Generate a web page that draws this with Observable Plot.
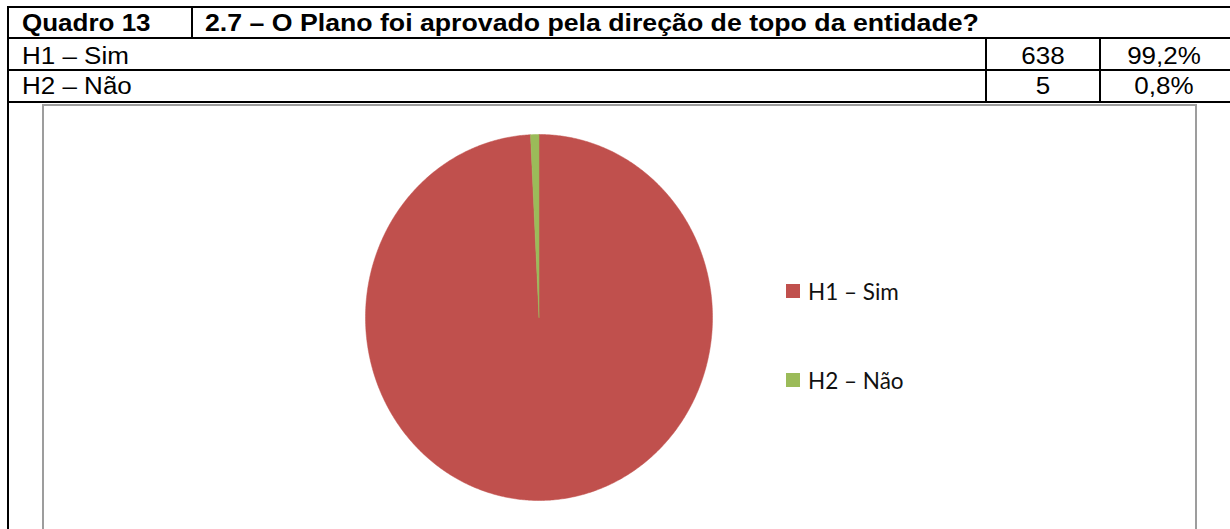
<!DOCTYPE html>
<html>
<head>
<meta charset="utf-8">
<script src="https://cdn.jsdelivr.net/npm/d3@7"></script>
<script src="https://cdn.jsdelivr.net/npm/@observablehq/plot@0.6"></script>
<style>
  body { margin:0; width:1230px; height:529px; overflow:hidden; position:relative; background:#fff; font-family:"Liberation Sans", Arial, sans-serif; color:#000; }
  .ln { position:absolute; background:#000; }
  .tx { position:absolute; font-size:23px; line-height:23px; white-space:nowrap; transform-origin:left top; transform:scaleX(1.13); }
  .tc { position:absolute; font-size:23px; line-height:23px; white-space:nowrap; transform-origin:center top; transform:translateX(-50%) scaleX(1.13); }
  .b { font-weight:bold; }
  .wide { transform:scaleX(1.16); }
  #frame { position:absolute; left:42px; top:104px; width:1151px; height:500px; border:2px solid #9d9d9d; }
  #chart { position:absolute; left:44px; top:106px; }
  .lg { position:absolute; font-family:Lato, "Open Sans", sans-serif; font-size:22.5px; line-height:22px; color:#111; white-space:nowrap; }
  .sw { position:absolute; width:14px; height:14px; }
</style>
</head>
<body>
<div id="frame"></div>
<div id="chart"></div>
<script>
// ---- data ----
const tableTitle = ["Quadro 13", "2.7 – O Plano foi aprovado pela direção de topo da entidade?"];
const categories = ["H1 – Sim", "H2 – Não"];
const counts = [638, 5];
const percents = ["99,2%", "0,8%"];
const colors = ["#C0504D", "#9BBB59"];

// ---- table (layout) ----
const body = document.body;
function line(x, y, w, h) {
  const d = document.createElement("div");
  d.className = "ln";
  Object.assign(d.style, {left: x + "px", top: y + "px", width: w + "px", height: h + "px"});
  body.appendChild(d);
}
function text(cls, str, x, top) {
  const d = document.createElement("div");
  d.className = cls;
  d.textContent = str;
  Object.assign(d.style, {left: x + "px", top: top + "px"});
  body.appendChild(d);
}
const rowLines = [6, 37, 69, 101];
rowLines.forEach(y => line(7, y, 1240, 2));
line(7, 6, 2, 540);
line(191, 6, 2, 33);
line(985, 37, 2, 66);
line(1099, 37, 2, 66);

text("tx b", tableTitle[0], 22, 12);
text("tx b wide", tableTitle[1], 205, 12);
const rowTops = [45, 75];
categories.forEach((c, i) => {
  text("tx", c, 22, rowTops[i]);
  text("tc", String(counts[i]), 1043, rowTops[i]);
  text("tc", percents[i], 1164, rowTops[i]);
});

// ---- pie ----
const data = categories.map((c, i) => ({key: c, count: counts[i]}));
const arcs = d3.pie().sort(null).value(d => d.count)(data);
const points = [];
arcs.forEach(a => {
  points.push({key: a.data.key, x: 0, y: 0});
  const n = Math.max(2, Math.ceil((a.endAngle - a.startAngle) / (Math.PI / 360)));
  for (let k = 0; k <= n; k++) {
    const t = a.startAngle + (a.endAngle - a.startAngle) * k / n;
    points.push({key: a.data.key, x: Math.sin(t), y: Math.cos(t)});
  }
  points.push({key: a.data.key, x: 0, y: 0});
});

const cx = 494.5, cy = 211, rx = 173.5, ry = 183;
const plot = Plot.plot({
  width: 1151,
  height: 423,
  margin: 0,
  x: {domain: [-1, 1], range: [cx - rx, cx + rx], axis: null},
  y: {domain: [-1, 1], range: [cy + ry, cy - ry], axis: null},
  color: {domain: categories, range: colors},
  marks: [
    Plot.line(points, {x: "x", y: "y", z: "key", fill: "key", stroke: "key", strokeWidth: 0.5, curve: "linear"})
  ]
});
document.getElementById("chart").appendChild(plot);

// ---- legend ----
const legendTops = [284, 373];
categories.forEach((c, i) => {
  const s = document.createElement("div");
  s.className = "sw";
  Object.assign(s.style, {left: "786px", top: legendTops[i] + "px", background: colors[i]});
  body.appendChild(s);
  const t = document.createElement("div");
  t.className = "lg";
  t.textContent = c;
  Object.assign(t.style, {left: "808px", top: (legendTops[i] - 3) + "px"});
  body.appendChild(t);
});
</script>
</body>
</html>
